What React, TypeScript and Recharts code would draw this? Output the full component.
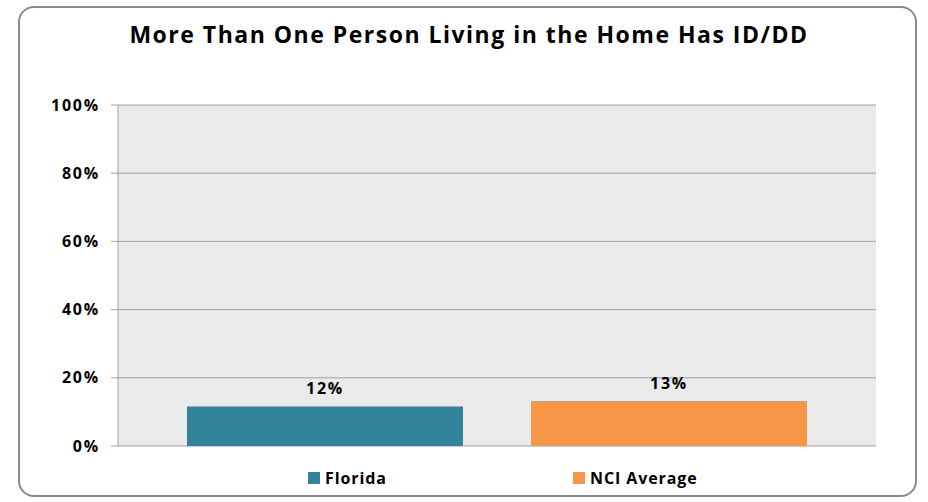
import { Bar, BarChart, CartesianGrid, LabelList, Legend, XAxis, YAxis } from "recharts";

const TITLE = "More Than One Person Living in the Home Has ID/DD";
const SERIES_NAMES = ["Florida", "NCI Average"];
const SERIES_VALUES = [11.6, 13.2];
const SERIES_COLORS = ["#31849B", "#F79646"];
const Y_TICKS = [0, 20, 40, 60, 80, 100];

const data = [
  SERIES_VALUES.reduce<Record<string, number | string>>(
    (row, v, i) => ({ ...row, [`s${i}`]: v }),
    { group: "all" }
  ),
];

const FONT = "'Open Sans', sans-serif";
const SMALL = { fill: "#000", fontFamily: FONT, fontSize: 16, fontWeight: 700, letterSpacing: 1.8 };

function LegendContent() {
  return (
    <div style={{ display: "flex", height: 24, alignItems: "center", fontFamily: FONT }}>
      {SERIES_NAMES.map((name, i) => (
        <div key={name} style={{ width: 265, display: "flex", alignItems: "center" }}>
          <span
            style={{ width: 12, height: 12, background: SERIES_COLORS[i], marginRight: 5, display: "inline-block" }}
          />
          <span style={{ fontSize: 16, fontWeight: 700, letterSpacing: 0.9, color: "#000" }}>{name}</span>
        </div>
      ))}
    </div>
  );
}

export default function App() {
  return (
    <div style={{ position: "absolute", left: 0, top: 0, width: 928, height: 502, background: "#fff", overflow: "hidden" }}>
      <div
        style={{
          position: "absolute",
          left: 18,
          top: 6,
          width: 895,
          height: 487,
          border: "2px solid #8a8a8a",
          borderRadius: 16,
        }}
      />
      <div
        style={{
          position: "absolute",
          left: 18,
          width: 902,
          top: 19,
          lineHeight: "30px",
          textAlign: "center",
          fontFamily: FONT,
          fontSize: 23,
          fontWeight: 700,
          letterSpacing: 1.5,
          color: "#000",
        }}
      >
        {TITLE}
      </div>
      <BarChart
        width={928}
        height={502}
        data={data}
        margin={{ top: 105, right: 52, bottom: 32, left: 18 }}
        barSize={276}
        barGap={68}
        style={{ position: "absolute", left: 0, top: 0 }}
      >
        <CartesianGrid vertical={false} stroke="#a0a0a0" fill="#eaeaea" />
        <XAxis dataKey="group" hide />
        <YAxis
          domain={[0, 100]}
          ticks={Y_TICKS}
          interval={0}
          width={100}
          tickFormatter={(v: number) => `${v}%`}
          axisLine={{ stroke: "#a0a0a0" }}
          tickLine={{ stroke: "#a0a0a0" }}
          tickSize={7}
          tickMargin={11}
          tick={SMALL}
        />
        <Legend
          verticalAlign="bottom"
          content={<LegendContent />}
          wrapperStyle={{ top: 466, left: 308, bottom: "auto", width: 560 }}
        />
        {SERIES_NAMES.map((name, i) => (
          <Bar key={name} dataKey={`s${i}`} name={name} fill={SERIES_COLORS[i]} isAnimationActive={false}>
            <LabelList
              dataKey={`s${i}`}
              position="top"
              offset={12}
              formatter={(v: number) => `${Math.round(v)}%`}
              style={SMALL}
            />
          </Bar>
        ))}
      </BarChart>
    </div>
  );
}
